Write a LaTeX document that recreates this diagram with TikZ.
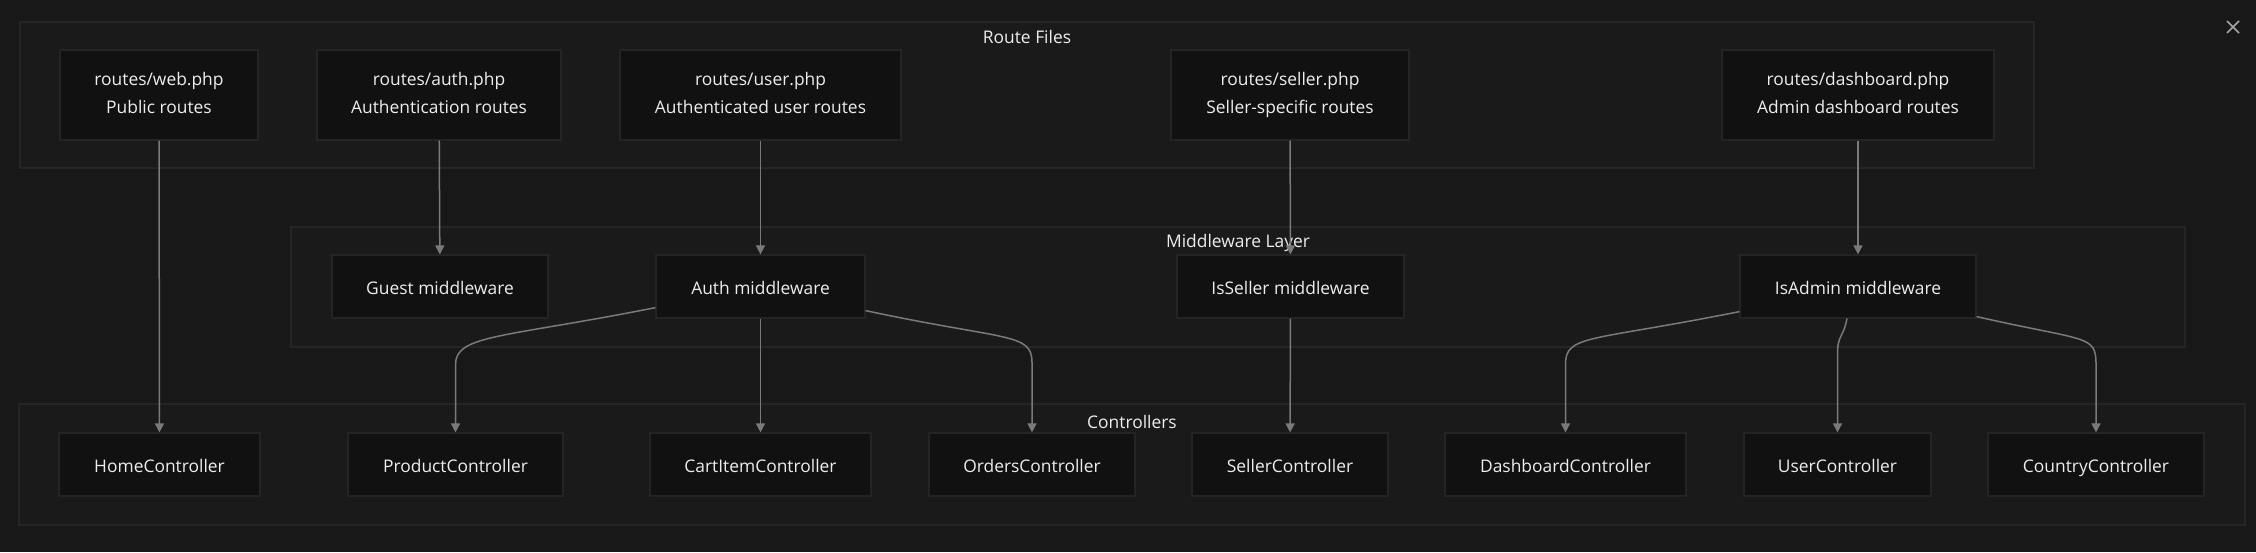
\documentclass[tikz,border=0pt]{standalone}
\usepackage{fontspec}
\setmainfont{Open Sans}
\usepackage{tikz}
\usepackage{xcolor}
\usetikzlibrary{arrows.meta}
\definecolor{bgcol}{HTML}{181818}
\definecolor{clusterfill}{HTML}{1A1A1A}
\definecolor{clusterline}{HTML}{252525}
\definecolor{boxfill}{HTML}{111111}
\definecolor{boxline}{HTML}{242424}
\definecolor{txtcol}{HTML}{EDEDED}
\definecolor{edgecol}{HTML}{7A7A7A}
\newcommand{\boxstrut}{\rule[-4.5pt]{0pt}{25.5pt}}
\tikzstyle{cluster} = [fill=clusterfill, draw=clusterline, line width=1.2pt]
\tikzstyle{title} = [text=txtcol, font=\fontsize{17.4}{28}\selectfont, inner sep=0pt]
\tikzstyle{box} = [fill=boxfill, draw=boxline, line width=1.2pt, text=txtcol, align=center, inner sep=2pt, font=\fontsize{17.4}{28}\selectfont, execute at begin node=\boxstrut]
\tikzstyle{arrow} = [draw=edgecol, line width=1.5pt, -{Triangle[length=9pt,width=9pt]}, color=edgecol]

\begin{document}
\begin{tikzpicture}[x=1pt,y=-1pt]
        \fill[bgcol] (0,0) rectangle (2256,552);
        \useasboundingbox (0,0) rectangle (2256,552);

        % Clusters
        \draw[cluster] (20,22) rectangle (2034,168);
            \node[title] (routetitle) at (1027,37) {Route Files};
        \draw[cluster] (291,227) rectangle (2185,347);
            \node[title] (mwtitle) at (1238,243) {Middleware Layer};
        \draw[cluster] (19,404) rectangle (2245,525);
            \node[title] (ctrltitle) at (1132,422) {Controllers};

        % Route files
        \node[box, minimum width=198pt, minimum height=90pt] (webphp) at (159,95) {routes/web.php\\\boxstrut Public routes};
        \node[box, minimum width=244pt, minimum height=90pt] (authphp) at (439,95) {routes/auth.php\\\boxstrut Authentication routes};
        \node[box, minimum width=281pt, minimum height=90pt] (userphp) at (760.5,95) {routes/user.php\\\boxstrut Authenticated user routes};
        \node[box, minimum width=238pt, minimum height=90pt] (sellerphp) at (1290,95) {routes/seller.php\\\boxstrut Seller-specific routes};
        \node[box, minimum width=272pt, minimum height=90pt] (dashphp) at (1858,95) {routes/dashboard.php\\\boxstrut Admin dashboard routes};

        % Middleware
        \node[box, minimum width=216pt, minimum height=63pt] (guestmw) at (440,286.5) {Guest middleware};
        \node[box, minimum width=209pt, minimum height=63pt] (authmw) at (760.5,286.5) {Auth middleware};
        \node[box, minimum width=227pt, minimum height=63pt] (sellermw) at (1290.5,286.5) {IsSeller middleware};
        \node[box, minimum width=236pt, minimum height=63pt] (adminmw) at (1858,286.5) {IsAdmin middleware};

        % Controllers
        \node[box, minimum width=201pt, minimum height=63pt] (homectrl) at (159.5,464.5) {HomeController};
        \node[box, minimum width=215pt, minimum height=63pt] (productctrl) at (455.5,464.5) {ProductController};
        \node[box, minimum width=221pt, minimum height=63pt] (cartctrl) at (760.5,464.5) {CartItemController};
        \node[box, minimum width=206pt, minimum height=63pt] (ordersctrl) at (1032,464.5) {OrdersController};
        \node[box, minimum width=196pt, minimum height=63pt] (sellerctrl) at (1290,464.5) {SellerController};
        \node[box, minimum width=241pt, minimum height=63pt] (dashctrl) at (1565.5,464.5) {DashboardController};
        \node[box, minimum width=187pt, minimum height=63pt] (userctrl) at (1837.5,464.5) {UserController};
        \node[box, minimum width=216pt, minimum height=63pt] (countryctrl) at (2096,464.5) {CountryController};

        % Draw Arrows
        \draw[arrow] (webphp) -- (homectrl);
        \draw[arrow] (authphp) -- (guestmw);
        \draw[arrow] (userphp) -- (authmw);
        \draw[arrow] (sellerphp) -- (sellermw);
        \draw[arrow] (dashphp) -- (adminmw);

        \draw[arrow] ([yshift=11pt]authmw.south west) .. controls +(-150pt,-30pt) and +(0pt,30pt) .. ([yshift=68pt]productctrl.north) -- (productctrl.north);
        \draw[arrow] (authmw) -- (cartctrl);
        \draw[arrow] ([yshift=8pt]authmw.south east) .. controls +(140pt,-30pt) and +(0pt,30pt) .. ([yshift=70pt]ordersctrl.north) -- (ordersctrl.north);
        \draw[arrow] (sellermw) -- (sellerctrl);
        \draw[arrow] ([yshift=7pt]adminmw.south west) .. controls +(-150pt,-30pt) and +(0pt,30pt) .. ([yshift=68pt]dashctrl.north) -- (dashctrl.north);
        \draw[arrow] ([xshift=-11pt]adminmw.south) .. controls +(-4pt,-20pt) and +(0pt,20pt) .. ([yshift=78pt]userctrl.north) -- (userctrl.north);
        \draw[arrow] ([yshift=2pt]adminmw.south east) .. controls +(110pt,-25pt) and +(0pt,30pt) .. ([yshift=68pt]countryctrl.north) -- (countryctrl.north);

        % Close mark
        \draw[gray!70, line width=1.5pt] (2227,21) -- (2239,33);
        \draw[gray!70, line width=1.5pt] (2239,21) -- (2227,33);
    \end{tikzpicture}
\end{document}
